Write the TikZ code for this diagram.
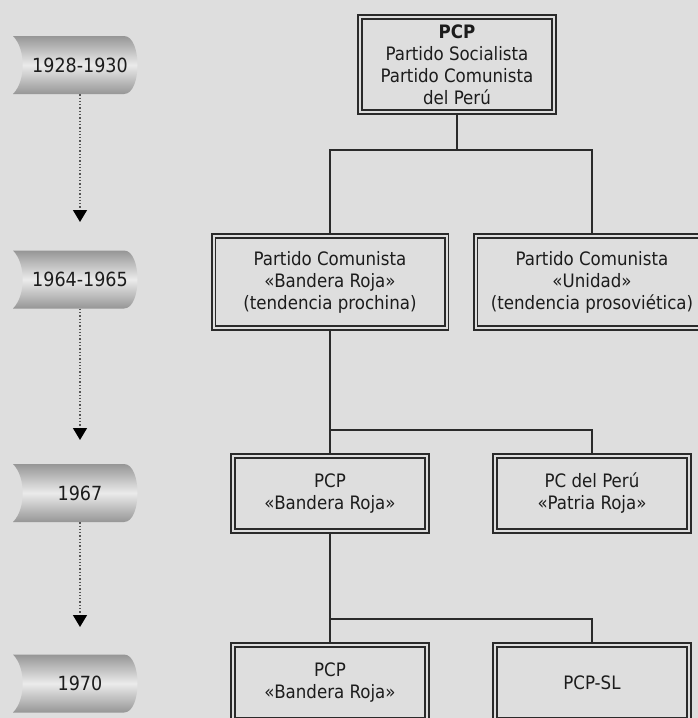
\documentclass[tikz,border=0pt]{standalone}
\usepackage{fontspec}
\setmainfont{DejaVu Sans Condensed}
\usetikzlibrary{arrows.meta}
\definecolor{bg}{HTML}{DEDEDE}
\definecolor{linecol}{HTML}{2A2A2A}
\definecolor{txt}{HTML}{1C1C1C}
\definecolor{dotcol}{HTML}{555555}
\definecolor{tabdark}{HTML}{969696}
\definecolor{tablight}{HTML}{EBEBEB}

\begin{document}
\begin{tikzpicture}[x=1pt,y=-1pt,
	party/.style={draw=linecol,line width=1.6pt,double=bg,double distance=2pt,
		minimum width=194pt,minimum height=75pt,inner sep=0pt,align=center,
		text=txt,font=\fontsize{18.5}{22}\selectfont},
	wide/.style={minimum width=233pt,minimum height=92pt},
	year/.style={minimum height=58pt,inner sep=0pt,text=txt,font=\fontsize{19.5}{22}\selectfont},
	tab/.style={top color=tabdark,bottom color=tabdark,middle color=tablight},
	link/.style={draw=linecol,line width=1.6pt},
	timeline/.style={draw=dotcol,line width=1.3pt,dotted,-{Triangle[width=14pt,length=12pt,color=black]}}]
	\useasboundingbox (0,0) rectangle (698,718);
	\fill[bg] (0,0) rectangle (698,718);
	% time axis
	\foreach \c/\t/\i in {65/1928-1930/1,279.5/1964-1965/2,493/1967/3,683.5/1970/4}{
		\shade[tab] (13,{\c-29}) -- (124,{\c-29}) .. controls (142,{\c-29}) and (142,{\c+29}) .. (124,{\c+29})
			-- (13,{\c+29}) .. controls (26,{\c+16}) and (26,{\c-16}) .. (13,{\c-29}) -- cycle;
		\node[year] (y\i) at (80,\c) {\t};
	}
	\coordinate (t1) at (80,222);
	\coordinate (t2) at (80,440);
	\coordinate (t3) at (80,627);
	\draw[timeline] (y1.south) -- (t1);
	\draw[timeline] (y2.south) -- (t2);
	\draw[timeline] (y3.south) -- (t3);
	% parties
	\node[party,minimum height=95pt] (pcp) at (457,64.5) {\textbf{PCP}\\Partido Socialista\\Partido Comunista\\del Perú};
	\node[party,wide] (bandera) at (330,282) {Partido Comunista\\«Bandera Roja»\\(tendencia prochina)};
	\node[party,wide] (unidad) at (592,282) {Partido Comunista\\«Unidad»\\(tendencia prosoviética)};
	\node[party] (pcpbr) at (330,493.5) {PCP\\«Bandera Roja»};
	\node[party] (patria) at (592,493.5) {PC del Perú\\«Patria Roja»};
	\node[party] (pcpbr2) at (330,682.5) {PCP\\«Bandera Roja»};
	\node[party] (pcpsl) at (592,682.5) {PCP-SL};
	% splits
	\draw[link] (pcp.south) -- (pcp.south |- 0,150) -| (bandera.north);
	\draw[link] (pcp.south |- 0,150) -| (unidad.north);
	\draw[link] (bandera.south) -- (bandera.south |- 0,430) -| (patria.north);
	\draw[link] (bandera.south |- 0,430) -- (pcpbr.north);
	\draw[link] (pcpbr.south) -- (pcpbr.south |- 0,619) -| (pcpsl.north);
	\draw[link] (pcpbr.south |- 0,619) -- (pcpbr2.north);
\end{tikzpicture}
\end{document}
